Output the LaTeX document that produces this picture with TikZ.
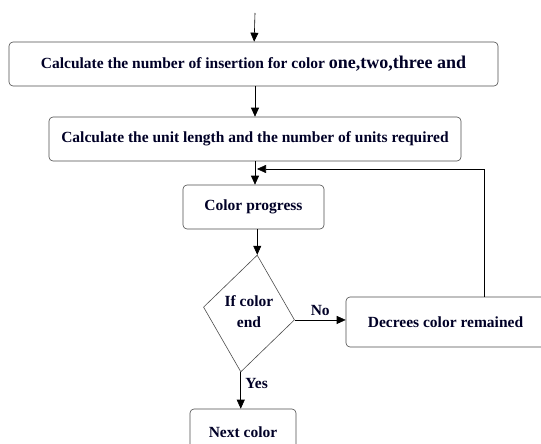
\documentclass[tikz,border=0pt]{standalone}
\usepackage{fontspec}
\setmainfont{Liberation Serif}
\usetikzlibrary{positioning,arrows.meta,shapes.geometric}

\begin{document}
\begin{tikzpicture}[
  x=1pt, y=-1pt,
  box/.style={draw=black!70, rounded corners=4pt, minimum height=44pt,
              align=center, font=\fontsize{15.5}{17}\selectfont\bfseries,
              text=black!85!blue, inner sep=2pt},
  decision/.style={draw=black!70, diamond, aspect=0.78, minimum width=92pt,
                   minimum height=118pt, align=center, inner sep=0pt,
                   font=\fontsize{15.5}{19}\selectfont\bfseries, text=black!85!blue},
  lbl/.style={font=\fontsize{15.5}{17}\selectfont\bfseries, text=black!85!blue},
  >={Triangle[length=9pt,width=8pt]}, semithick
]
\useasboundingbox (0,0) rectangle (541,444);
\clip (0,0) rectangle (541,444);

% Start
\coordinate (start) at (255,13);

% Calculation boxes
\node[box, minimum width=489pt] (insert) at (253.5,64)
  {Calculate the number of insertion for color {\fontsize{18}{20}\selectfont one,two,three and}};
\node[box, minimum width=412pt] (unit) at (255,139)
  {Calculate the unit length and the number of units required};

% Loop body
\node[box, minimum width=141pt] (progress) at (253.5,207) {Color progress};
\node[decision, rotate=-8] (ifend) at (249,313.5) {\rotatebox{8}{\begin{tabular}{@{}c@{}}If color\\[2pt]end\end{tabular}}};
\node[box, minimum width=199pt, minimum height=50pt] (decrees) at (445.5,322)
  {Decrees color remained};
\node[box, minimum width=106pt, minimum height=46pt] (next) at (243,432)
  {Next color};

% Join point of the loop
\coordinate (join) at (255,169);

% Arrows
\draw[->] (start) -- (insert);
\draw[->] (start |- insert.south) -- (start |- unit.north);
\draw[->] (start |- unit.south) -- (start |- progress.north);
\draw[->] (ifend.north |- progress.south) -- (ifend.north);
\draw[->] (ifend.east) -- node[lbl, above=1pt] {No} (decrees.west |- ifend.east);
\draw[->] (ifend.south) -- node[lbl, right=1pt, pos=0.3] {Yes} (next.north -| ifend.south);
\draw[->] ([xshift=38.5pt]decrees.north) |- ([xshift=2pt]join);

\end{tikzpicture}
\end{document}
